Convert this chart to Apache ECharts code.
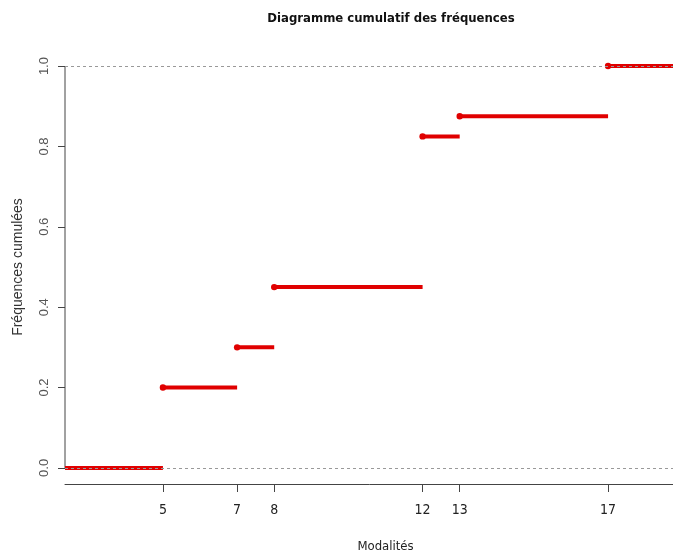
<!DOCTYPE html>
<html>
<head>
<meta charset="utf-8">
<script src="https://cdn.jsdelivr.net/npm/echarts@6/dist/echarts.min.js"></script>
<style>
  html, body { margin: 0; padding: 0; background: #fff; }
  #chart { width: 673px; height: 556px; }
</style>
</head>
<body>
<div id="chart"></div>
<script>
// Modalités observées et fréquences cumulées correspondantes
const modalites = [5, 7, 8, 12, 13, 17];
const freqCumulees = [0.2, 0.3, 0.45, 0.825, 0.875, 1.0];
const yTicks = [0, 0.2, 0.4, 0.6, 0.8, 1.0];

// Étendue de l'axe des x (plage des sauts élargie comme plot.stepfun)
const xMin = 2.36;
const xMax = 19.64;

// Paliers horizontaux de la fonction de répartition empirique
const paliers = [[xMin, modalites[0], 0, 0]];
for (let i = 0; i < modalites.length; i++) {
  const fin = i + 1 < modalites.length ? modalites[i + 1] : xMax;
  paliers.push([modalites[i], fin, freqCumulees[i], 1]);
}

const rouge = '#e00000';
const axeCouleur = '#444';
const policeEtroite = "'DejaVu Sans Condensed', 'Liberation Sans', sans-serif";
const police = "'Liberation Sans', Arial, sans-serif";

const chart = echarts.init(document.getElementById('chart'), null, { renderer: 'canvas' });

chart.setOption({
  backgroundColor: '#fff',
  animation: false,
  title: {
    text: 'Diagramme cumulatif des fréquences',
    left: 386,
    top: 7,
    textAlign: 'center',
    textStyle: {
      fontFamily: policeEtroite,
      fontWeight: 'bold',
      fontSize: 13,
      color: '#111'
    }
  },
  grid: { left: 65, top: 50, width: 641, height: 434, outerBoundsMode: 'none', containLabel: false },
  xAxis: {
    type: 'value',
    min: xMin,
    max: xMax,
    name: 'Modalités',
    nameLocation: 'middle',
    nameGap: 56,
    nameTextStyle: { fontFamily: policeEtroite, fontSize: 13, color: '#222' },
    axisLine: { show: true, onZero: false, lineStyle: { color: axeCouleur, width: 1 } },
    axisTick: { show: true, customValues: modalites, length: 8, lineStyle: { color: axeCouleur } },
    axisLabel: {
      customValues: modalites,
      margin: 19,
      fontFamily: policeEtroite,
      fontSize: 14,
      color: '#222'
    },
    splitLine: { show: false }
  },
  yAxis: {
    type: 'value',
    min: -0.04,
    max: 1.04,
    name: 'Fréquences cumulées',
    nameLocation: 'middle',
    nameGap: 40,
    nameRotate: 90,
    nameTextStyle: { fontFamily: police, fontSize: 14, color: '#333' },
    axisLine: { show: false, onZero: false },
    axisTick: { show: true, customValues: yTicks, length: 7, lineStyle: { color: axeCouleur } },
    axisLabel: {
      customValues: yTicks,
      rotate: 90,
      margin: 14,
      fontFamily: police,
      fontSize: 13,
      color: '#555',
      formatter: v => v.toFixed(1)
    },
    splitLine: { show: false }
  },
  series: [
    {
      // Trait de l'axe des ordonnées, limité de 0 à 1
      type: 'line',
      data: [[xMin, yTicks[0]], [xMin, yTicks[yTicks.length - 1]]],
      symbol: 'none',
      silent: true,
      lineStyle: { color: axeCouleur, width: 1 },
      z: 1
    },
    {
      type: 'custom',
      data: paliers,
      silent: true,
      z: 2,
      renderItem: function (params, api) {
        const p1 = api.coord([api.value(0), api.value(2)]);
        const p2 = api.coord([api.value(1), api.value(2)]);
        const children = [{
          type: 'line',
          shape: { x1: p1[0], y1: p1[1], x2: p2[0], y2: p2[1] },
          style: { stroke: rouge, lineWidth: 4 }
        }];
        if (api.value(3)) {
          children.push({
            type: 'circle',
            shape: { cx: p1[0], cy: p1[1], r: 3.2 },
            style: { fill: rouge }
          });
        }
        return { type: 'group', children: children };
      }
    },
    {
      // Repères pointillés à 0 et à 1
      type: 'line',
      data: [],
      silent: true,
      z: 3,
      markLine: {
        silent: true,
        symbol: 'none',
        label: { show: false },
        lineStyle: { color: '#999', type: [3, 3], width: 1 },
        data: [{ yAxis: 0 }, { yAxis: 1 }]
      }
    }
  ]
});
</script>
</body>
</html>
